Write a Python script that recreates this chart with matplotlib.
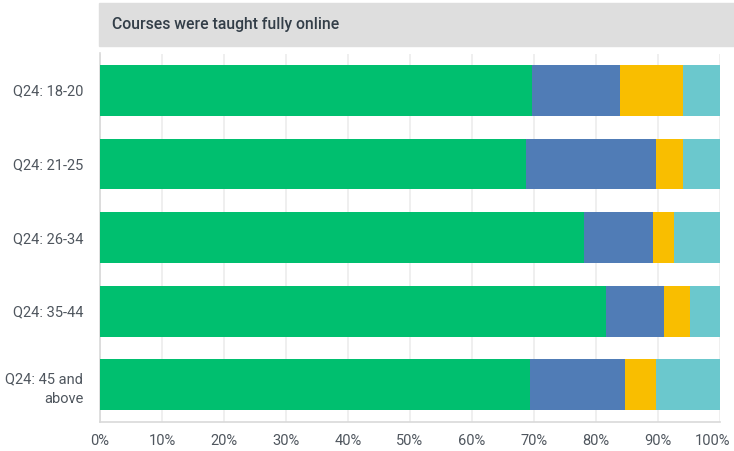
import numpy as np
import matplotlib
matplotlib.use('Agg')
from matplotlib import pyplot as plt
from matplotlib.patches import Rectangle
from matplotlib.transforms import ScaledTranslation

# Data (percent of respondents per answer)
groups = ['Q24: 18-20', 'Q24: 21-25', 'Q24: 26-34', 'Q24: 35-44', 'Q24: 45 and\nabove']
green = [69.7, 68.7, 78.1, 81.6, 69.4]
blue = [14.2, 20.9, 11.1, 9.3, 15.3]
yellow = [10.2, 4.5, 3.4, 4.3, 5.0]
teal = [5.9, 5.9, 7.4, 4.8, 10.3]
xticks = [0, 10, 20, 30, 40, 50, 60, 70, 80, 90, 100]
title = 'Courses were taught fully online'

colors = ['#00bf6f', '#507cb6', '#f9be00', '#6bc8cd']

plt.rcParams['font.family'] = ['Roboto', 'DejaVu Sans']

fig = plt.figure(figsize=(7.34, 4.51), dpi=100)
ax = fig.add_axes([100 / 734, 29.3 / 451, 620 / 734, 368.2 / 451])

y = np.arange(len(groups))
left = np.zeros(len(groups))
for vals, c in zip([green, blue, yellow, teal], colors):
    ax.barh(y, vals, left=left, height=0.69, color=c, zorder=3)
    left += np.array(vals)

ax.set_xlim(0, 100)
ax.set_ylim(len(groups) - 0.5, -0.5)
ax.set_xticks(xticks)
ax.set_xticklabels([f'{t}%' for t in xticks])
ax.set_yticks(y)
ax.set_yticklabels(groups, ha='right', multialignment='right', linespacing=1.5)
ax.tick_params(axis='both', length=0, colors='#4f565e', labelsize=10.5)
ax.tick_params(axis='x', pad=9)
ax.tick_params(axis='y', pad=12)
ax.xaxis.grid(True, color='#ececec', linewidth=1.2, zorder=0)
for s in ['top', 'right']:
    ax.spines[s].set_visible(False)
for s in ['left', 'bottom']:
    ax.spines[s].set_color('#d9d9d9')
    ax.spines[s].set_linewidth(1.2)

# keep "100%" inside the figure like the reference
last = ax.get_xticklabels()[-1]
last.set_transform(last.get_transform() + ScaledTranslation(-7 / 100, 0, fig.dpi_scale_trans))

# title banner
fig.patches.append(Rectangle((99 / 734, 1 - 45.7 / 451), 1 - 99 / 734, 43 / 451,
                             transform=fig.transFigure, color='#dedede', zorder=0))
fig.text(112 / 734, 1 - 24 / 451, title, fontsize=11.3, fontweight='medium',
         color='#333e48', va='center', ha='left')

fig.savefig('out.png', dpi=100)
